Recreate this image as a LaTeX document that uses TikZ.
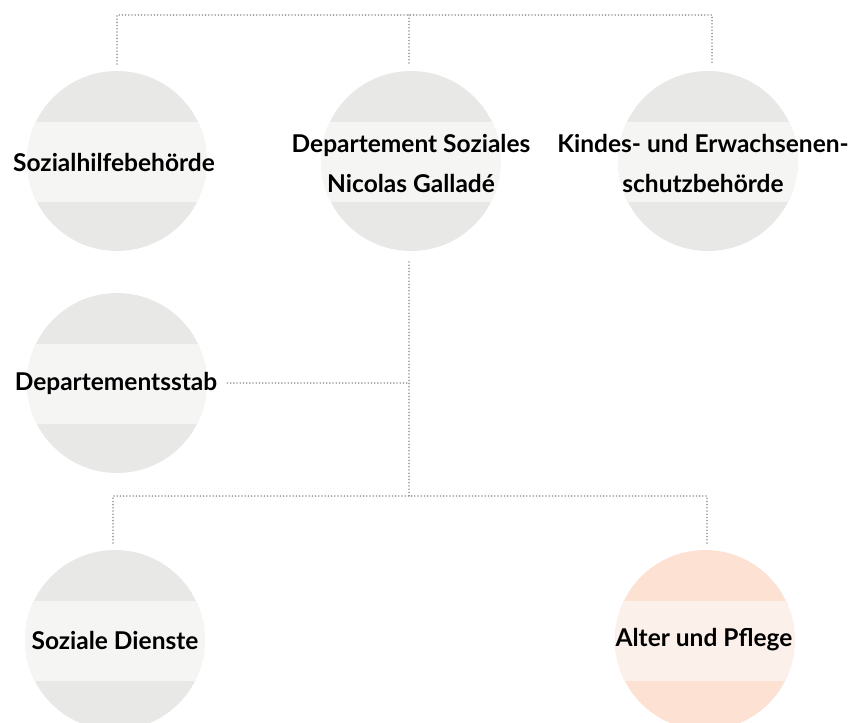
\documentclass[tikz,border=0pt]{standalone}
\usepackage{fontspec}
\setmainfont{Lato}[BoldFont={* Bold}]
\definecolor{circgray}{HTML}{E8E8E7}
\definecolor{bandgray}{HTML}{F5F5F4}
\definecolor{circorange}{HTML}{FDE1D3}
\definecolor{bandorange}{HTML}{FCF0EA}
\definecolor{dotgray}{HTML}{999999}
\newcommand{\orgcircle}[5]{% name, x, y, circle colour, band colour
  \begin{scope}
    \clip (#2,#3) circle (90);
    \fill[#4] (#2,#3) circle (90);
    \fill[#5] (#2-95,#3-39) rectangle (#2+95,#3+41);
  \end{scope}
  \coordinate (#1) at (#2,#3);
}
\begin{document}
\begin{tikzpicture}[x=1pt,y=-1pt,
  dotline/.style={draw=dotgray,line width=1.8pt,line cap=round,dash pattern=on 0pt off 3.2pt},
  lbl/.style={font=\bfseries\fontsize{24.5}{40}\selectfont,align=center,text=black,inner sep=0pt}]
\useasboundingbox (0,0) rectangle (858,722);
\orgcircle{c1}{117}{161}{circgray}{bandgray}
\orgcircle{c2}{411}{161}{circgray}{bandgray}
\orgcircle{c3}{708}{161}{circgray}{bandgray}
\orgcircle{c4}{117}{383}{circgray}{bandgray}
\orgcircle{c5}{115}{640}{circgray}{bandgray}
\orgcircle{c6}{705}{640}{circorange}{bandorange}
\node[lbl] (t1) at (114,162) {Sozialhilfebehörde};
\node[lbl] (t2) at (411,163) {Departement Soziales\\Nicolas Galladé};
\node[lbl] (t3) at (703,163) {Kindes- und Erwachsenen-\\schutzbehörde};
\node[lbl] (t4) at (116,383) {Departementsstab};
\node[lbl] (t5) at (115,640) {Soziale Dienste};
\node[lbl] (t6) at (704,640) {Alter und Pflege};
% connector points
\coordinate (a1) at (117,64);
\coordinate (a2) at (409,64);
\coordinate (a3) at (712,64);
\coordinate (top) at (409,15);
\coordinate (m1) at (409,262);
\coordinate (m2) at (409,383);
\coordinate (m3) at (409,496);
\coordinate (b1) at (113,543);
\coordinate (b2) at (707,543);
\draw[dotline] (a1) |- (top) -| (a3);
\draw[dotline] (top) -- (a2);
\draw[dotline] (m1) -- (m3);
\draw[dotline] ([xshift=10]t4.east) -- (m2);
\draw[dotline] (b1) |- (m3) -| (b2);
\end{tikzpicture}
\end{document}
